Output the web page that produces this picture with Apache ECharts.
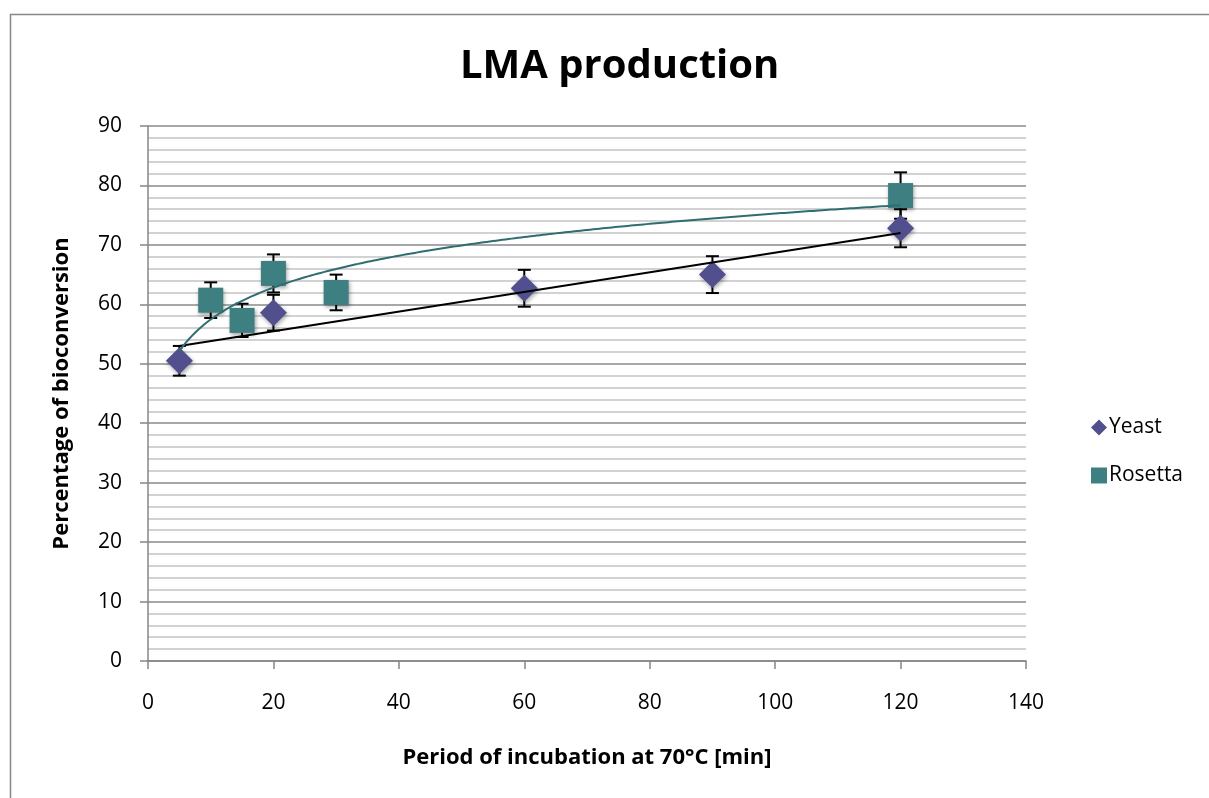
<!DOCTYPE html>
<html>
<head>
<meta charset="utf-8">
<script src="https://cdn.jsdelivr.net/npm/echarts@6/dist/echarts.min.js"></script>
<style>html,body{margin:0;padding:0;background:#fff;}#c{width:1209px;height:798px;}</style>
</head>
<body>
<div id="c"></div>
<script>
// ---- data ----
const yeastX = [5, 20, 60, 90, 120];
const yeastY = [50.5, 58.6, 62.7, 65.0, 72.8];
const yeastErr = [2.5, 3.0, 3.1, 3.1, 3.2];
const rosettaX = [10, 15, 20, 30, 120];
const rosettaY = [60.7, 57.3, 65.2, 62.0, 78.3];
const rosettaErr = [3.0, 2.8, 3.2, 3.0, 3.9];
const xTicks = [0, 20, 40, 60, 80, 100, 120, 140];
const yTicks = [0, 10, 20, 30, 40, 50, 60, 70, 80, 90];
const trendStart = 5, trendEnd = 120;

// ---- trendlines (least squares fits of the data above) ----
function linFit(xs, ys) {
  const n = xs.length, mx = xs.reduce((a,b)=>a+b)/n, my = ys.reduce((a,b)=>a+b)/n;
  let sxy = 0, sxx = 0;
  for (let i = 0; i < n; i++) { sxy += (xs[i]-mx)*(ys[i]-my); sxx += (xs[i]-mx)*(xs[i]-mx); }
  const a = sxy/sxx; return { a, b: my - a*mx };
}
const yl = linFit(yeastX, yeastY);
const yeastTrend = [[trendStart, yl.a*trendStart+yl.b], [trendEnd, yl.a*trendEnd+yl.b]];
const rl = linFit(rosettaX.map(Math.log), rosettaY);
const rosettaTrend = [];
for (let x = trendStart; x <= trendEnd; x += 0.5) rosettaTrend.push([x, rl.a*Math.log(x)+rl.b]);

const FONT = '"Open Sans", "Liberation Sans", sans-serif';
const yeastColor = '#514F8D';
const rosettaColor = '#3E7F81';

function errSeries(xs, ys, es) {
  return {
    type: 'custom', z: 2, silent: true,
    data: xs.map((x,i)=>[x, ys[i], es[i]]),
    renderItem: function (params, api) {
      const x = api.value(0), y = api.value(1), e = api.value(2);
      const top = api.coord([x, y+e]), bot = api.coord([x, y-e]);
      const hw = 6.5;
      const st = { stroke: '#000', lineWidth: 2 };
      return { type: 'group', children: [
        { type: 'line', shape: { x1: top[0], y1: top[1], x2: bot[0], y2: bot[1] }, style: st },
        { type: 'line', shape: { x1: top[0]-hw, y1: top[1], x2: top[0]+hw, y2: top[1] }, style: st },
        { type: 'line', shape: { x1: bot[0]-hw, y1: bot[1], x2: bot[0]+hw, y2: bot[1] }, style: st }
      ]};
    }
  };
}

const chart = echarts.init(document.getElementById('c'), null, { renderer: 'canvas' });
chart.setOption({
  backgroundColor: '#fff',
  animation: false,
  graphic: [{ type: 'rect', shape: { x: 10.5, y: 14.5, width: 1300, height: 900 }, style: { fill: 'none', stroke: '#878787', lineWidth: 1.5 }, z: -10 }],
  title: { text: 'LMA production', left: 455, top: 42, itemGap: 0,
    textStyle: { fontFamily: FONT, fontSize: 40, fontWeight: 'bold', color: '#000' } },
  legend: {
    orient: 'vertical', left: 1086, top: 412, itemGap: 27, itemWidth: 16, itemHeight: 16,
    textStyle: { fontFamily: FONT, fontSize: 21, color: '#000', padding: [0,0,0,-3] },
    data: [
      { name: 'Yeast', icon: 'diamond', itemStyle: { color: yeastColor, opacity: 1 } },
      { name: 'Rosetta', icon: 'rect', itemStyle: { color: rosettaColor, opacity: 1 } }
    ]
  },
  grid: { left: 148, right: 183, top: 126, bottom: 137 },
  xAxis: {
    type: 'value', min: 0, max: 140, interval: 20,
    name: 'Period of incubation at 70°C [min]', nameLocation: 'middle', nameGap: 86,
    nameTextStyle: { fontFamily: FONT, fontSize: 22, fontWeight: 'bold', color: '#000' },
    axisLine: { lineStyle: { color: '#868686', width: 1.5 } },
    axisTick: { show: true, length: 8, lineStyle: { color: '#868686', width: 1.5 } },
    axisLabel: { fontFamily: FONT, fontSize: 21, color: '#000', margin: 32,
      formatter: v => xTicks.includes(v) ? String(v) : '' },
    splitLine: { show: false }
  },
  yAxis: {
    type: 'value', min: 0, max: 90, interval: 10,
    name: 'Percentage of bioconversion', nameLocation: 'middle', nameGap: 75,
    nameTextStyle: { fontFamily: FONT, fontSize: 22, fontWeight: 'bold', color: '#000' },
    axisLine: { show: true, lineStyle: { color: '#868686', width: 1.5 } },
    axisTick: { show: true, length: 8, lineStyle: { color: '#868686', width: 1.5 } },
    axisLabel: { fontFamily: FONT, fontSize: 21, color: '#000', margin: 26,
      formatter: v => yTicks.includes(v) ? String(v) : '' },
    splitLine: { show: true, lineStyle: { color: '#8a8a8a', width: 1.5 } },
    minorTick: { show: false, splitNumber: 5 },
    minorSplitLine: { show: true, lineStyle: { color: '#c4c4c4', width: 1.5 } }
  },
  series: [
    errSeries(yeastX, yeastY, yeastErr),
    errSeries(rosettaX, rosettaY, rosettaErr),
    { name: 'Yeast', type: 'scatter', z: 3, symbol: 'diamond', symbolSize: 27,
      itemStyle: { color: yeastColor, opacity: 1, shadowColor: 'rgba(0,0,0,0.35)', shadowBlur: 4, shadowOffsetX: 1, shadowOffsetY: 2 },
      data: yeastX.map((x,i)=>[x, yeastY[i]]) },
    { name: 'Rosetta', type: 'scatter', z: 3, symbol: 'rect', symbolSize: 25,
      itemStyle: { color: rosettaColor, opacity: 1, shadowColor: 'rgba(0,0,0,0.35)', shadowBlur: 4, shadowOffsetX: 1, shadowOffsetY: 2 },
      data: rosettaX.map((x,i)=>[x, rosettaY[i]]) },
    { name: 'Yeast trend', type: 'line', z: 4, showSymbol: false, silent: true,
      lineStyle: { color: '#000', width: 2 }, data: yeastTrend },
    { name: 'Rosetta trend', type: 'line', z: 4, showSymbol: false, silent: true, smooth: false,
      lineStyle: { color: '#2F6E70', width: 2 }, data: rosettaTrend }
  ]
});
</script>
</body>
</html>
